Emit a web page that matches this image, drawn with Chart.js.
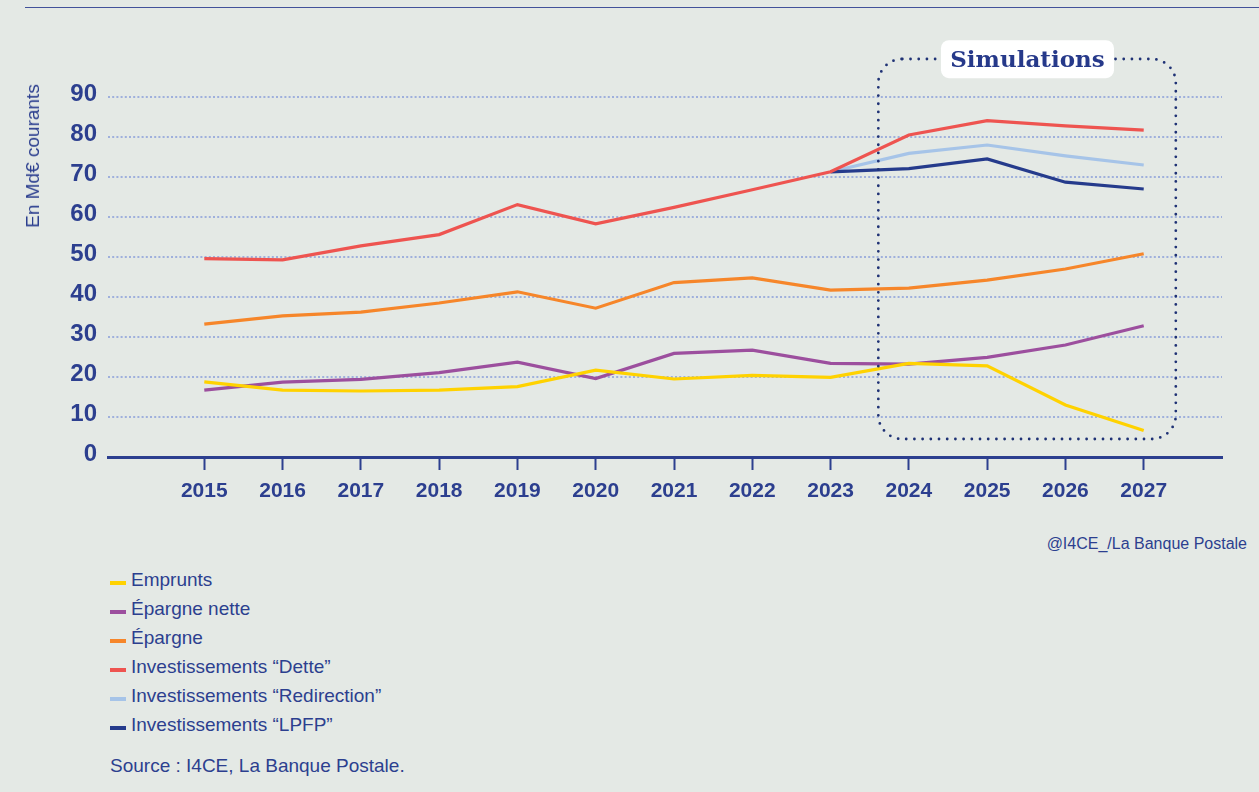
<!DOCTYPE html>
<html>
<head>
<meta charset="utf-8">
<script src="https://cdn.jsdelivr.net/npm/chart.js@4.4.1/dist/chart.umd.min.js"></script>
<style>
  html, body { margin:0; padding:0; background:#e4e9e5; width:1259px; height:792px; overflow:hidden; }
  body { position:relative; font-family:"Liberation Sans", Arial, sans-serif; color:#2c3f8f; }
  #topline { position:absolute; top:7px; left:25px; width:1234px; height:1px; background:#42529a; }
  #wrap { position:absolute; top:0; left:0; width:1259px; height:520px; }
  #ytitle { position:absolute; left:33px; top:156px; transform:translate(-50%,-50%) rotate(-90deg); white-space:nowrap; font-size:19px; color:#2c3f8f; }
  #credit { position:absolute; right:12px; top:532px; font-size:16px; line-height:24px; color:#2c3f8f; }
  #legend { position:absolute; left:110px; top:565px; }
  .li { position:relative; height:29px; line-height:29px; padding-left:21px; font-size:19px; white-space:nowrap; color:#2c3f8f; }
  .sw { position:absolute; left:0; top:16px; width:16px; height:4px; }
  #source { position:absolute; left:110px; top:752px; font-size:19px; line-height:28px; color:#2c3f8f; }
</style>
</head>
<body>
<div id="topline"></div>
<div id="wrap"><canvas id="c" width="1259" height="520"></canvas></div>
<div id="ytitle">En Md€ courants</div>
<div id="credit">@I4CE_/La Banque Postale</div>
<div id="legend"></div>
<div id="source">Source : I4CE, La Banque Postale.</div>
<script>
// ---- Data ----
const years = [2015, 2016, 2017, 2018, 2019, 2020, 2021, 2022, 2023, 2024, 2025, 2026, 2027];
const yTicks = [0, 10, 20, 30, 40, 50, 60, 70, 80, 90];
const emprunts     = [18.8, 16.7, 16.5, 16.7, 17.6, 21.7, 19.5, 20.4, 19.9, 23.4, 22.8, 13.0, 6.6];
const epargneNette = [16.7, 18.7, 19.4, 21.1, 23.7, 19.6, 25.9, 26.7, 23.4, 23.2, 24.9, 28.0, 32.8];
const epargne      = [33.2, 35.3, 36.2, 38.5, 41.3, 37.2, 43.6, 44.8, 41.7, 42.2, 44.2, 47.0, 50.8];
const invDette     = [49.6, 49.3, 52.8, 55.6, 63.1, 58.3, 62.4, 66.8, 71.3, 80.5, 84.1, 82.8, 81.7];
const invRedirection = [null, null, null, null, null, null, null, null, 71.3, 75.9, 78.0, 75.3, 73.0];
const invLPFP      = [null, null, null, null, null, null, null, null, 71.3, 72.1, 74.5, 68.7, 67.0];
const seriesNames = ['Emprunts', 'Épargne nette', 'Épargne', 'Investissements “Dette”', 'Investissements “Redirection”', 'Investissements “LPFP”'];
const seriesColors = ['#ffd200', '#9c4f9e', '#f6862a', '#ee5450', '#a6c4e8', '#253b8c'];
const seriesValues = [emprunts, epargneNette, epargne, invDette, invRedirection, invLPFP];
const simulationLabel = 'Simulations';

const NAVY = '#2c3f8f';
const GRID = '#9fb0dc';

const datasets = seriesValues.map((vals, i) => ({
  label: seriesNames[i],
  data: years.map((y, j) => ({ x: y, y: vals[j] })),
  borderColor: seriesColors[i],
  backgroundColor: seriesColors[i],
  borderWidth: 3.2,
  pointRadius: 0,
  tension: 0,
  spanGaps: false,
  order: [4, 5, 3, 0, 2, 1][i]
}));

// HTML legend from series arrays
const lg = document.getElementById('legend');
seriesNames.forEach((n, i) => {
  const d = document.createElement('div');
  d.className = 'li';
  const s = document.createElement('span');
  s.className = 'sw';
  s.style.background = seriesColors[i];
  d.appendChild(s);
  d.appendChild(document.createTextNode(n));
  lg.appendChild(d);
});

function roundRectPath(ctx, x, y, w, h, r) {
  ctx.beginPath();
  ctx.moveTo(x + r, y);
  ctx.lineTo(x + w - r, y);
  ctx.arcTo(x + w, y, x + w, y + r, r);
  ctx.lineTo(x + w, y + h - r);
  ctx.arcTo(x + w, y + h, x + w - r, y + h, r);
  ctx.lineTo(x + r, y + h);
  ctx.arcTo(x, y + h, x, y + h - r, r);
  ctx.lineTo(x, y + r);
  ctx.arcTo(x, y, x + r, y, r);
  ctx.closePath();
}

const simBox = {
  id: 'simBox',
  afterDatasetsDraw(chart) {
    const { ctx, scales: { x, y } } = chart;
    const l = x.getPixelForValue(2023.61), r = x.getPixelForValue(2027.41);
    const t = y.getPixelForValue(99.5), b = y.getPixelForValue(4.5);
    ctx.save();
    ctx.strokeStyle = '#1f3275';
    ctx.lineWidth = 2.8;
    ctx.lineCap = 'round';
    ctx.setLineDash([0, 8.2]);
    roundRectPath(ctx, l, t, r - l, b - t, 24);
    ctx.stroke();
    ctx.setLineDash([]);
    // label box
    const bl = x.getPixelForValue(2024.41), br = x.getPixelForValue(2026.62);
    const bt = y.getPixelForValue(104.2), bb = y.getPixelForValue(94.7);
    ctx.fillStyle = '#ffffff';
    roundRectPath(ctx, bl, bt, br - bl, bb - bt, 8);
    ctx.fill();
    ctx.fillStyle = '#26398a';
    ctx.font = 'bold 23px "DejaVu Serif", serif';
    ctx.textAlign = 'center';
    ctx.textBaseline = 'middle';
    ctx.fillText(simulationLabel, (bl + br) / 2, (bt + bb) / 2 + 2);
    ctx.restore();
  }
};

new Chart(document.getElementById('c'), {
  type: 'line',
  data: { datasets },
  plugins: [simBox],
  options: {
    responsive: false,
    animation: false,
    events: [],
    layout: { padding: { top: 97, left: 20, right: 37, bottom: 3 } },
    plugins: { legend: { display: false }, tooltip: { enabled: false }, title: { display: false } },
    scales: {
      x: {
        type: 'linear',
        min: 2013.77,
        max: 2028.0,
        afterBuildTicks: (s) => { s.ticks = years.map(v => ({ value: v })); },
        afterFit: (s) => { s.height = 60; },
        grid: { drawOnChartArea: false, drawTicks: true, tickLength: 13, tickColor: NAVY, tickWidth: 2 },
        border: { display: true, color: NAVY, width: 3 },
        ticks: {
          color: NAVY, padding: 9, maxRotation: 0, autoSkip: false,
          font: { family: '"Liberation Sans", Arial, sans-serif', size: 21, weight: 'bold' },
          callback: (v) => String(v)
        }
      },
      y: {
        type: 'linear',
        min: 0,
        max: 90,
        afterBuildTicks: (s) => { s.ticks = yTicks.map(v => ({ value: v })); },
        afterFit: (s) => { s.width = 88; },
        grid: {
          drawTicks: false,
          lineWidth: 2,
          color: (c) => (c.tick && c.tick.value === 0) ? 'rgba(0,0,0,0)' : GRID
        },
        border: { display: false, dash: [2, 2.2] },
        ticks: {
          color: NAVY, padding: 11, labelOffset: -3,
          font: { family: '"Liberation Sans", Arial, sans-serif', size: 24, weight: 'bold' }
        }
      }
    }
  }
});
</script>
</body>
</html>
